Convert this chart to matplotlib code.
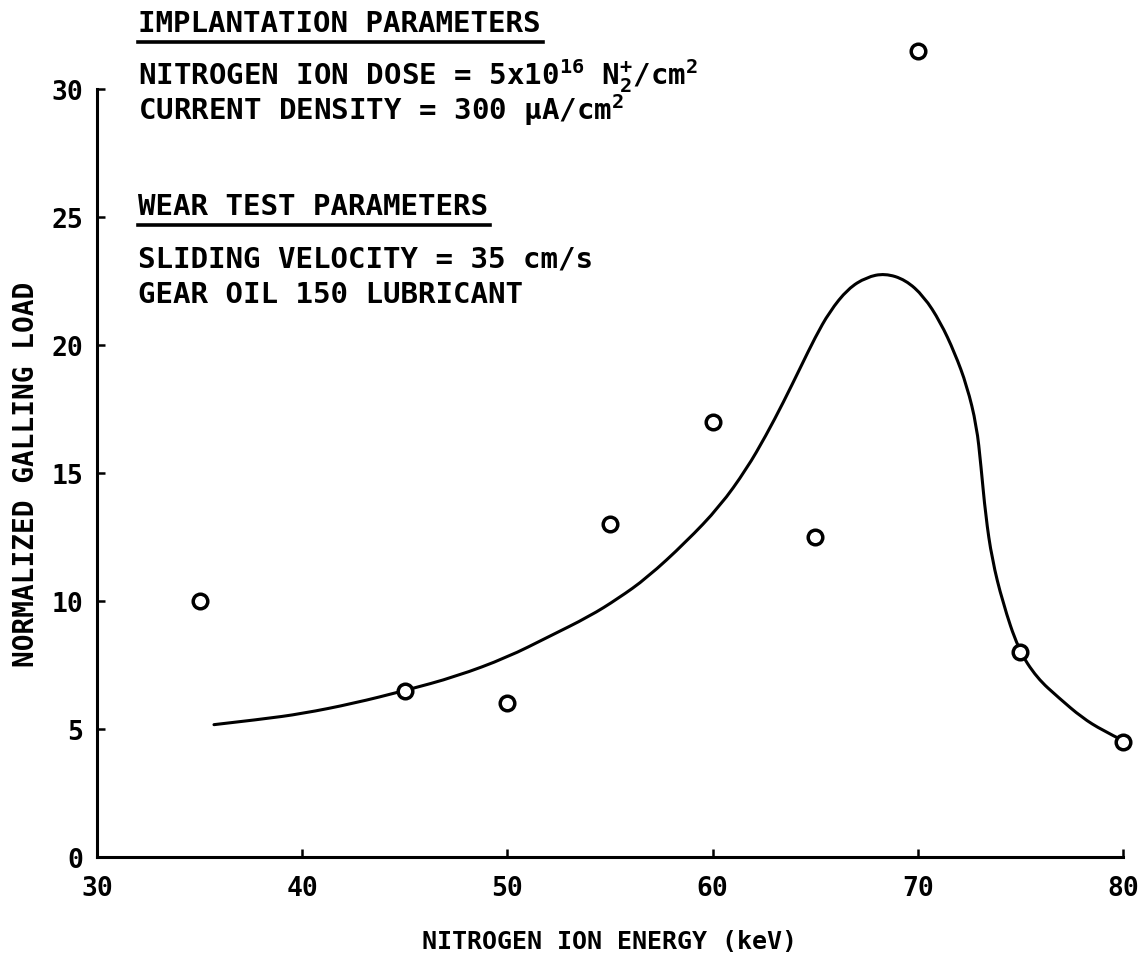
import matplotlib
matplotlib.use("Agg")
import matplotlib.pyplot as plt
from matplotlib.lines import Line2D
from matplotlib.path import Path
from matplotlib.patches import PathPatch

plt.rcParams["font.family"] = ["DejaVu Sans Mono", "DejaVu Sans"]
plt.rcParams["font.weight"] = "bold"
plt.rcParams["mathtext.fontset"] = "custom"
plt.rcParams["mathtext.rm"] = "DejaVu Sans Mono:bold"
plt.rcParams["mathtext.it"] = "DejaVu Sans Mono:bold"
plt.rcParams["mathtext.bf"] = "DejaVu Sans Mono:bold"

# measured points
energy = [35, 45, 50, 55, 60, 65, 70, 75, 80]
galling_load = [10.0, 6.5, 6.0, 13.0, 17.0, 12.5, 31.5, 8.0, 4.5]

# hand-drawn fit curve
curve_x = [35.7, 38, 40, 42.5, 45, 47.5, 50, 52, 54, 55.4, 56.8, 58.7, 60.36,
           61.66, 62.6, 63.45, 64.3, 65.0, 65.7, 66.6, 67.5, 68.4, 69.4, 70.3,
           71.1, 71.8, 72.4, 72.87, 73.08, 73.31, 73.62, 74.14, 74.9, 75.8,
           76.9, 78.0, 79.0, 80.0]
curve_y = [5.17, 5.38, 5.6, 6.0, 6.5, 7.05, 7.8, 8.6, 9.4, 10.1, 10.9, 12.3,
           13.7, 15.16, 16.46, 17.76, 19.15, 20.3, 21.3, 22.2, 22.65, 22.8,
           22.55, 21.9, 20.9, 19.7, 18.4, 16.85, 15.29, 13.33, 11.64, 9.95,
           8.12, 7.0, 6.2, 5.45, 4.95, 4.55]

x_ticks = [30, 40, 50, 60, 70, 80]
y_ticks = [0, 5, 10, 15, 20, 25, 30]

fig = plt.figure(figsize=(11.47, 9.62), dpi=100)
ax = fig.add_axes([0.0846, 0.1081, 0.8944, 0.7983])

# smooth the traced curve with quadratic bezier segments
pts = list(zip(curve_x, curve_y))
verts, codes = [pts[0]], [Path.MOVETO]
for i in range(1, len(pts) - 1):
    if i == len(pts) - 2:
        end = pts[-1]
    else:
        end = ((pts[i][0] + pts[i + 1][0]) / 2, (pts[i][1] + pts[i + 1][1]) / 2)
    verts += [pts[i], end]
    codes += [Path.CURVE3, Path.CURVE3]
ax.add_patch(PathPatch(Path(verts, codes), fill=False, ec="black", lw=2.2,
                       capstyle="round", zorder=2))

ax.plot(energy, galling_load, "o", ms=10.5, mfc="white", mec="black", mew=2.5,
        clip_on=False, zorder=3)

ax.set_xlim(30, 80)
ax.set_ylim(0, 30)
ax.set_xticks(x_ticks)
ax.set_yticks(y_ticks)
ax.spines[["top", "right"]].set_visible(False)
for s in ["left", "bottom"]:
    ax.spines[s].set_linewidth(2.2)
ax.tick_params(direction="in", length=6, width=1.8, labelsize=19)
ax.tick_params(axis="x", pad=13)
ax.tick_params(axis="y", pad=10)

ax.set_xlabel("NITROGEN ION ENERGY (keV)", fontsize=18, fontweight="bold",
              labelpad=20)
ax.set_ylabel("NORMALIZED GALLING LOAD", fontsize=20, fontweight="bold",
              labelpad=8)

# parameter notes in upper left (baselines in pixels from top)
fs = 21
x0 = 138 / 1147
lines = [
    (32, "IMPLANTATION PARAMETERS", True),
    (85, r"NITROGEN ION DOSE = 5x10$^{16}$ N$_2^{+}$/cm$^{2}$", False),
    (120, r"CURRENT DENSITY = 300 μA/cm$^{2}$", False),
    (215, "WEAR TEST PARAMETERS", True),
    (268, "SLIDING VELOCITY = 35 cm/s", False),
    (303, "GEAR OIL 150 LUBRICANT", False),
]
headers = []
for ypix, txt, is_header in lines:
    t = fig.text(x0, 1 - ypix / 962, txt, fontsize=fs, ha="left", va="baseline")
    if is_header:
        headers.append(t)

fig.canvas.draw()
renderer = fig.canvas.get_renderer()
inv = fig.transFigure.inverted()
for t in headers:
    bb = t.get_window_extent(renderer)
    (x1, y1), (x2, _) = inv.transform([(bb.x0, bb.y0 - 5), (bb.x1 + 2, bb.y0)])
    fig.add_artist(Line2D([x1, x2], [y1, y1], color="black", lw=2.6,
                          transform=fig.transFigure))

fig.savefig("out.png", dpi=100, facecolor="white")
